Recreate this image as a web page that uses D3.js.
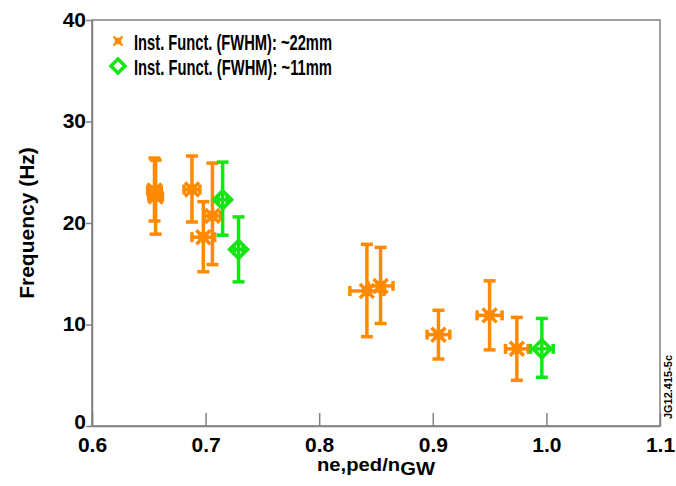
<!DOCTYPE html>
<html>
<head>
<meta charset="utf-8">
<script src="https://cdn.jsdelivr.net/npm/d3@7"></script>
<style>
  body { margin: 0; background: #fff; }
  text { font-family: "Liberation Sans", Arial, sans-serif; font-weight: bold; }
</style>
</head>
<body>
<svg width="676" height="486"></svg>
<script>
// orange series: Inst. Funct. (FWHM) ~22mm
var orangeX    = [0.655, 0.656, 0.688, 0.698, 0.706, 0.842, 0.854, 0.905, 0.950, 0.974];
var orangeY    = [23.2, 22.6, 23.3, 18.6, 20.7, 13.3, 13.8, 9.0, 10.9, 7.6];
var orangeYHi  = [26.4, 26.2, 26.6, 22.1, 25.9, 17.9, 17.6, 11.4, 14.3, 10.7];
var orangeYLo  = [20.2, 18.9, 20.1, 15.2, 15.9, 8.8, 10.1, 6.6, 7.5, 4.5];
var orangeXErr = [0.006, 0.006, 0.007, 0.010, 0.007, 0.015, 0.011, 0.010, 0.011, 0.010];

// green series: Inst. Funct. (FWHM) ~11mm
var greenX    = [0.715, 0.729, 0.996];
var greenY    = [22.3, 17.4, 7.6];
var greenYHi  = [26.0, 20.6, 10.6];
var greenYLo  = [18.8, 14.2, 4.8];
var greenXErr = [0.004, 0.004, 0.010];

var xTicks = [0.6, 0.7, 0.8, 0.9, 1.0, 1.1];
var yTicks = [0, 10, 20, 30, 40];

var orange = "#ff8a00", green = "#14e614", axisColor = "#808080";

var svg = d3.select("svg"),
  margin = {top: 20, right: 16, bottom: 60, left: 92},
  width = 676 - margin.left - margin.right,
  height = 486 - margin.top - margin.bottom,
  g = svg.append("g").attr("transform", "translate(" + margin.left + "," + margin.top + ")");

var x = d3.scaleLinear().domain([0.6, 1.1]).range([0, width]);
var y = d3.scaleLinear().domain([0, 40]).range([height, 0]);

// frame
g.append("rect")
  .attr("width", width).attr("height", height)
  .attr("fill", "none").attr("stroke", axisColor).attr("stroke-width", 1.5);

var xAxis = g.append("g")
  .attr("transform", "translate(0," + height + ")")
  .call(d3.axisBottom(x).tickValues(xTicks).tickFormat(d3.format(".1f"))
    .tickSizeInner(-13).tickSizeOuter(0).tickPadding(6));

var yAxis = g.append("g")
  .call(d3.axisLeft(y).tickValues(yTicks).tickSizeInner(6).tickSizeOuter(0).tickPadding(0));

[xAxis, yAxis].forEach(function(a) {
  a.select(".domain").attr("stroke", axisColor).attr("stroke-width", 1.5);
  a.selectAll(".tick line").attr("stroke", axisColor).attr("stroke-width", 1.5);
  a.selectAll(".tick text").attr("fill", "#000").style("font-size", "21px")
    .style("font-family", "'Liberation Sans', Arial, sans-serif").style("font-weight", "bold");
});
xAxis.selectAll(".tick text").attr("dy", "0.95em");
yAxis.selectAll(".tick text").attr("dy", function(d) { return d === 0 ? "0.1em" : "0.3em"; });

function drawSeries(xs, ys, hi, lo, xe, color, kind) {
  var data = xs.map(function(d, i) {
    return {x: d, y: ys[i], hi: hi[i], lo: lo[i], xe: xe[i]};
  });
  var pt = g.append("g").selectAll("g").data(data).enter().append("g")
    .attr("stroke", color).attr("stroke-width", 3.5).attr("fill", "none");

  // vertical error bar + caps
  pt.append("line")
    .attr("x1", function(d) { return x(d.x); }).attr("x2", function(d) { return x(d.x); })
    .attr("y1", function(d) { return y(d.hi); }).attr("y2", function(d) { return y(d.lo); });
  pt.append("line")
    .attr("x1", function(d) { return x(d.x) - 6; }).attr("x2", function(d) { return x(d.x) + 6; })
    .attr("y1", function(d) { return y(d.hi); }).attr("y2", function(d) { return y(d.hi); });
  pt.append("line")
    .attr("x1", function(d) { return x(d.x) - 6; }).attr("x2", function(d) { return x(d.x) + 6; })
    .attr("y1", function(d) { return y(d.lo); }).attr("y2", function(d) { return y(d.lo); });

  // horizontal error bar + caps
  pt.append("line")
    .attr("x1", function(d) { return x(d.x - d.xe); }).attr("x2", function(d) { return x(d.x + d.xe); })
    .attr("y1", function(d) { return y(d.y); }).attr("y2", function(d) { return y(d.y); });
  pt.append("line")
    .attr("x1", function(d) { return x(d.x - d.xe); }).attr("x2", function(d) { return x(d.x - d.xe); })
    .attr("y1", function(d) { return y(d.y) - 5; }).attr("y2", function(d) { return y(d.y) + 5; });
  pt.append("line")
    .attr("x1", function(d) { return x(d.x + d.xe); }).attr("x2", function(d) { return x(d.x + d.xe); })
    .attr("y1", function(d) { return y(d.y) - 5; }).attr("y2", function(d) { return y(d.y) + 5; });

  pt.each(function(d) {
    drawMarker(d3.select(this), x(d.x), y(d.y), kind, color, 1);
  });
}

function drawMarker(sel, cx, cy, kind, color, s) {
  if (kind === "star") {
    var r = 7 * s;
    sel.append("rect").attr("x", cx - 5 * s).attr("y", cy - 5 * s)
      .attr("width", 10 * s).attr("height", 10 * s).attr("fill", color).attr("stroke", "none");
    sel.append("path")
      .attr("d", "M" + (cx - r) + "," + (cy - r) + "L" + (cx + r) + "," + (cy + r) +
                 "M" + (cx - r) + "," + (cy + r) + "L" + (cx + r) + "," + (cy - r))
      .attr("stroke", color).attr("stroke-width", 3.5 * s).attr("fill", "none");
  } else {
    var r2 = 9 * s;
    sel.append("path")
      .attr("d", "M" + cx + "," + (cy - r2) + "L" + (cx + r2) + "," + cy + "L" + cx + "," + (cy + r2) +
                 "L" + (cx - r2) + "," + cy + "Z")
      .attr("stroke", color).attr("stroke-width", 3.5).attr("fill", "none");
  }
}

drawSeries(orangeX, orangeY, orangeYHi, orangeYLo, orangeXErr, orange, "star");
drawSeries(greenX, greenY, greenYHi, greenYLo, greenXErr, green, "diamond");

// legend
var legend = svg.append("g");
var lg1 = legend.append("g");
drawMarker(lg1, 118, 41, "star", orange, 0.65);
legend.append("text").attr("x", 134).attr("y", 50)
  .attr("textLength", 198).attr("lengthAdjust", "spacingAndGlyphs")
  .style("font-size", "22px").text("Inst. Funct. (FWHM): ~22mm");
var lg2 = legend.append("g");
drawMarker(lg2, 118, 66, "diamond", green, 0.78);
legend.append("text").attr("x", 134).attr("y", 75)
  .attr("textLength", 198).attr("lengthAdjust", "spacingAndGlyphs")
  .style("font-size", "22px").text("Inst. Funct. (FWHM): ~11mm");

// axis titles
svg.append("text")
  .attr("transform", "translate(34," + (margin.top + height / 2) + ") rotate(-90)")
  .attr("text-anchor", "middle").style("font-size", "21px").text("Frequency (Hz)");

var xt = svg.append("text")
  .attr("x", margin.left + width / 2).attr("y", 471)
  .attr("text-anchor", "middle")
  .attr("textLength", 118).attr("lengthAdjust", "spacingAndGlyphs")
  .style("font-size", "19px");
xt.append("tspan").text("ne,ped/n");
xt.append("tspan").attr("dy", 4).text("GW");

// side tag
svg.append("text")
  .attr("transform", "translate(672,387) rotate(-90)")
  .attr("text-anchor", "middle").style("font-size", "11px").text("JG12.415-5c");
</script>
</body>
</html>
